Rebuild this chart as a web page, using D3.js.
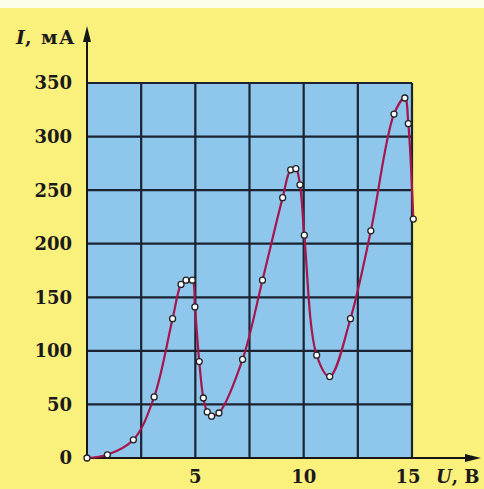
<!DOCTYPE html>
<html>
<head>
<meta charset="utf-8">
<script src="https://cdn.jsdelivr.net/npm/d3@7"></script>
<style>
  body { margin: 0; background: #fdfbea; }
  svg { display: block; }
  text { font-family: "DejaVu Serif", serif; font-weight: bold; fill: #1a1a1a; }
</style>
</head>
<body>
<svg width="484" height="489"></svg>
<script>
// measured points, U in volts, I in mA
var voltage = [0, 0.94, 2.14, 3.1, 3.95, 4.34, 4.57, 4.86, 4.98, 5.18, 5.37, 5.55, 5.75, 6.09, 7.18, 8.1,
               9.03, 9.4, 9.64, 9.83, 10.03, 10.6, 11.2, 12.16, 13.1, 14.17, 14.67, 14.83, 15.06];
var current = [0, 3, 17, 57, 130, 162, 166, 166, 141, 90, 56, 43, 39, 42, 92, 166,
               243, 269, 270, 255, 208, 96, 76, 130, 212, 321, 336, 312, 223];
var yTicks = [0, 50, 100, 150, 200, 250, 300, 350];
var xTicks = [5, 10, 15];
var xGrid = [2.5, 5, 7.5, 10, 12.5, 15];

var points = voltage.map(function(u, i) { return {u: u, i: current[i]}; });

var svg = d3.select("svg");

svg.append("rect")
    .attr("x", 0).attr("y", 8)
    .attr("width", 484).attr("height", 481)
    .attr("fill", "#faf07c");

var x = d3.scaleLinear().domain([0, 15]).range([87, 412]);
var y = d3.scaleLinear().domain([0, 350]).range([458, 83]);

svg.append("rect")
    .attr("x", x(0)).attr("y", y(350))
    .attr("width", x(15) - x(0)).attr("height", y(0) - y(350))
    .attr("fill", "#8fc6ec");

var grid = svg.append("g").attr("stroke", "#1b2330").attr("stroke-width", 2.2);
grid.selectAll("line.v")
    .data(xGrid)
    .enter().append("line")
    .attr("x1", function(d) { return x(d); }).attr("x2", function(d) { return x(d); })
    .attr("y1", y(0)).attr("y2", y(350));
grid.selectAll("line.h")
    .data(yTicks.slice(1))
    .enter().append("line")
    .attr("x1", x(0)).attr("x2", x(15))
    .attr("y1", function(d) { return y(d); }).attr("y2", function(d) { return y(d); });

// axes with arrows
var axes = svg.append("g").attr("stroke", "#151515").attr("stroke-width", 2);
axes.append("line").attr("x1", x(0)).attr("x2", x(0)).attr("y1", y(0)).attr("y2", 34);
axes.append("line").attr("x1", x(0)).attr("x2", 474).attr("y1", y(0)).attr("y2", y(0));
svg.append("path")
    .attr("d", "M" + x(0) + ",26 L" + (x(0) - 4) + ",42 L" + (x(0) + 4) + ",42 Z")
    .attr("fill", "#151515");
svg.append("path")
    .attr("d", "M481," + y(0) + " L465," + (y(0) - 4) + " L465," + (y(0) + 4) + " Z")
    .attr("fill", "#151515");

// curve
var line = d3.line()
    .x(function(d) { return x(d.u); })
    .y(function(d) { return y(d.i); })
    .curve(d3.curveCatmullRom.alpha(0.5));

svg.append("path")
    .datum(points)
    .attr("d", line)
    .attr("fill", "none")
    .attr("stroke", "#a5164c")
    .attr("stroke-width", 2.2);

svg.append("g").selectAll("circle")
    .data(points)
    .enter().append("circle")
    .attr("cx", function(d) { return x(d.u); })
    .attr("cy", function(d) { return y(d.i); })
    .attr("r", 3)
    .attr("fill", "#ffffff")
    .attr("stroke", "#222")
    .attr("stroke-width", 1.3);

// tick labels
svg.append("g").selectAll("text")
    .data(yTicks)
    .enter().append("text")
    .attr("x", 72)
    .attr("y", function(d) { return y(d); })
    .attr("dy", "0.36em")
    .attr("text-anchor", "end")
    .attr("font-size", 18)
    .text(function(d) { return d; });

svg.append("g").selectAll("text")
    .data(xTicks)
    .enter().append("text")
    .attr("x", function(d) { return x(d) - (d == 15 ? 4 : 0); })
    .attr("y", 483)
    .attr("text-anchor", "middle")
    .attr("font-size", 18)
    .text(function(d) { return d; });

// axis titles
var yl = svg.append("text").attr("x", 16).attr("y", 44).attr("font-size", 19);
yl.append("tspan").attr("font-style", "italic").text("I");
yl.append("tspan").attr("letter-spacing", 1.5).text(", мА");

var xl = svg.append("text").attr("x", 436).attr("y", 483).attr("font-size", 18);
xl.append("tspan").attr("font-style", "italic").text("U");
xl.append("tspan").text(", В");
</script>
</body>
</html>
